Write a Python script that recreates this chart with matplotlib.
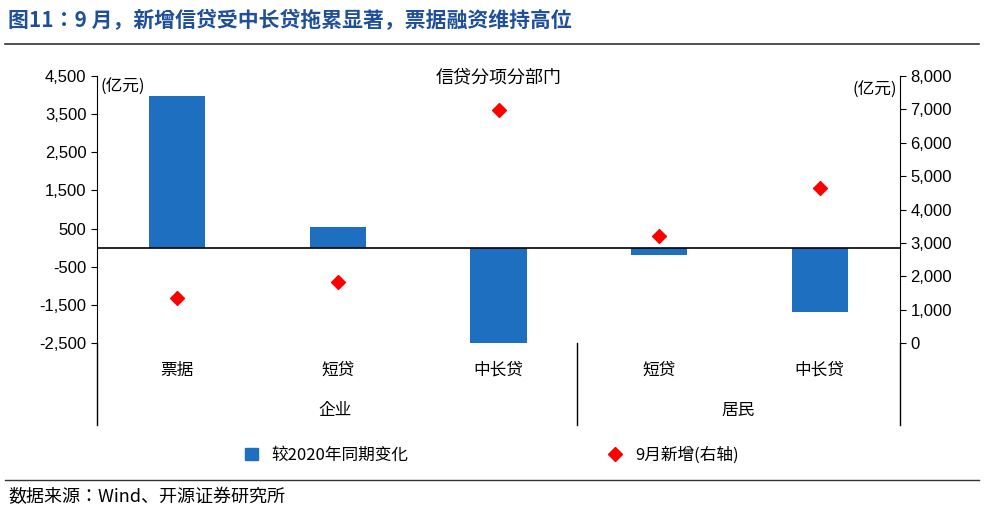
import matplotlib
matplotlib.use("Agg")
import matplotlib.pyplot as plt
from matplotlib.lines import Line2D
from matplotlib.patches import Patch

plt.rcParams["font.family"] = "sans-serif"
plt.rcParams["font.sans-serif"] = ["Noto Sans CJK SC", "Noto Sans CJK JP", "Noto Sans CJK TC", "Noto Sans CJK KR", "DejaVu Sans"]

categories = ["票据", "短贷", "中长贷", "短贷", "中长贷"]
groups = ["企业", "居民"]
change_vs_2020 = [3980, 550, -2520, -180, -1700]
sept_new = [1350, 1830, 6970, 3200, 4650]
left_ticks = [-2500, -1500, -500, 500, 1500, 2500, 3500, 4500]
right_ticks = [0, 1000, 2000, 3000, 4000, 5000, 6000, 7000, 8000]

W, H = 984, 516
fig = plt.figure(figsize=(W/100, H/100), dpi=100)
ax = fig.add_axes([97/W, 1-343/H, (900-97)/W, (343-76)/H])
x = list(range(len(categories)))
blue = "#1f6fc0"
ax.bar(x, change_vs_2020, width=0.35, color=blue, zorder=2)
ax.axhline(0, color="black", lw=1.2, zorder=3)
ax.set_xlim(-0.5, 4.5)
ax.set_ylim(-2500, 4500)
ax.set_yticks(left_ticks)
ax.set_yticklabels([f"{v:,}" for v in left_ticks], fontsize=12, fontfamily="Liberation Sans")
ax.set_xticks([])
for s in ["top", "bottom", "right"]:
    ax.spines[s].set_visible(False)
ax2 = ax.twinx()
ax2.scatter(x, sept_new, marker="D", s=50, color="#ff0000", zorder=4)
ax2.set_ylim(0, 8000)
ax2.set_yticks(right_ticks)
ax2.set_yticklabels([f"{v:,}" for v in right_ticks], fontsize=12, fontfamily="Liberation Sans")
for s in ["top", "bottom", "left"]:
    ax2.spines[s].set_visible(False)
ax.tick_params(axis="y", direction="out", length=4)
ax2.tick_params(axis="y", direction="out", length=4)

ax.text(0.5, 1.03, "信贷分项分部门", transform=ax.transAxes, ha="center", va="top", fontsize=13)
ax.text(0.004, 0.99, "(亿元)", transform=ax.transAxes, ha="left", va="top", fontsize=12)
ax.text(0.996, 0.98, "(亿元)", transform=ax.transAxes, ha="right", va="top", fontsize=12)

for i, c in enumerate(categories):
    xf = (97 + (i + 0.5) * (803/5)) / W
    fig.text(xf, 1-370/H, c, ha="center", va="center", fontsize=12)
fig.text(335/W, 1-410/H, groups[0], ha="center", va="center", fontsize=12)
fig.text(738/W, 1-410/H, groups[1], ha="center", va="center", fontsize=12)
for xp in [97, 577, 900]:
    fig.add_artist(Line2D([xp/W, xp/W], [1-343/H, 1-425/H], color="black", lw=1))

handles = [Patch(color=blue), Line2D([], [], marker="D", color="#ff0000", ls="none", markersize=7)]
fig.legend(handles, ["较2020年同期变化", "9月新增(右轴)"], loc="center", bbox_to_anchor=(0.5, 1-455/H),
           ncol=2, frameon=False, fontsize=12, columnspacing=12, handlelength=0.8)

fig.text(8/W, 1-20/H, "图11：9 月，新增信贷受中长贷拖累显著，票据融资维持高位", ha="left", va="center",
         fontsize=15, fontweight="bold", color="#1f4e9a")
fig.add_artist(Line2D([5/W, 979/W], [1-44/H, 1-44/H], color="#333333", lw=1.2))
fig.add_artist(Line2D([5/W, 979/W], [1-480/H, 1-480/H], color="#333333", lw=1))
fig.text(8/W, 1-497/H, "数据来源：Wind、开源证券研究所", ha="left", va="center", fontsize=13)

fig.savefig("out.png", dpi=100)
